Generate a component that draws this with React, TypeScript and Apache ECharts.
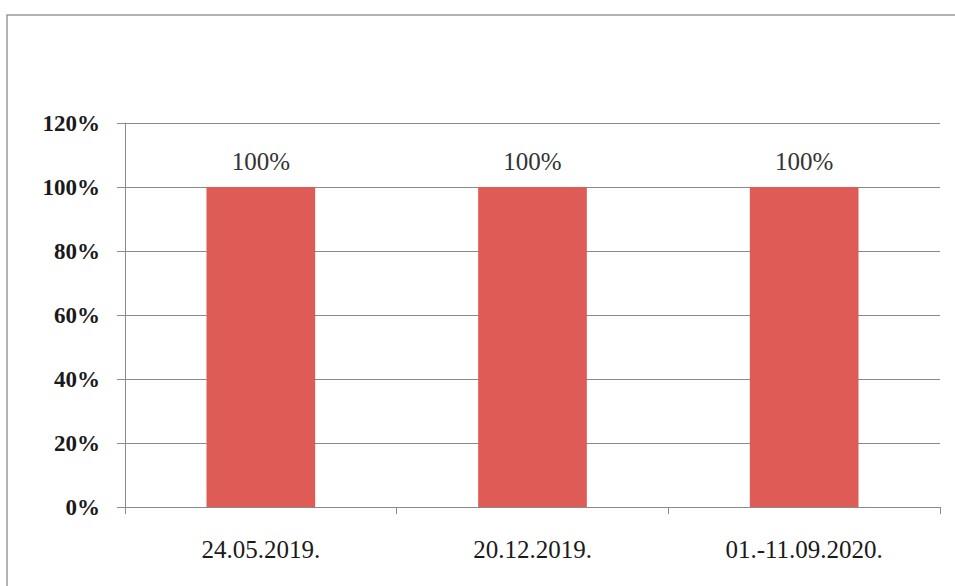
import React, { useEffect, useRef } from "react";
import * as echarts from "echarts";

const categories = ["24.05.2019.", "20.12.2019.", "01.-11.09.2020."];
const values = [100, 100, 100];
const yTicks = { min: 0, max: 120, interval: 20 };

export default function App() {
  const ref = useRef<HTMLDivElement>(null);
  useEffect(() => {
    document.body.style.margin = "0";
    const chart = echarts.init(ref.current!, null, { renderer: "svg" });
    const serif = "'Liberation Serif', 'Times New Roman', serif";
    chart.setOption({
      animation: false,
      backgroundColor: "#ffffff",
      graphic: [
        {
          type: "rect",
          shape: { x: 7, y: 15, width: 970, height: 600 },
          style: { fill: "none", stroke: "#9a9a9a", lineWidth: 1.5 },
          silent: true,
        },
      ],
      grid: { left: 125, right: 15, top: 123, bottom: 79, containLabel: false },
      xAxis: {
        type: "category",
        data: categories,
        axisLine: { show: true, lineStyle: { color: "#8a8a8a", width: 1 } },
        axisTick: { show: true, length: 7, lineStyle: { color: "#8a8a8a" } },
        axisLabel: {
          fontFamily: serif,
          fontSize: 25,
          color: "#1a1a1a",
          margin: 30,
        },
        splitLine: { show: false },
      },
      yAxis: {
        type: "value",
        min: yTicks.min,
        max: yTicks.max,
        interval: yTicks.interval,
        axisLine: { show: true, lineStyle: { color: "#8a8a8a", width: 1 } },
        axisTick: { show: true, length: 8, lineStyle: { color: "#8a8a8a" } },
        axisLabel: {
          fontFamily: serif,
          fontSize: 23,
          fontWeight: "bold",
          color: "#1a1a1a",
          margin: 25,
          formatter: (v: number) => `${v}%`,
        },
        splitLine: { show: true, lineStyle: { color: "#8a8a8a", width: 1 } },
      },
      series: [
        {
          type: "bar",
          data: values,
          barWidth: "40%",
          itemStyle: { color: "#df5b55" },
          label: {
            show: true,
            position: "top",
            distance: 13,
            fontFamily: serif,
            fontSize: 25,
            color: "#333333",
            formatter: (p: any) => `${p.value}%`,
          },
        },
      ],
    });
    return () => chart.dispose();
  }, []);
  return (
    <div
      ref={ref}
      style={{ position: "fixed", left: 0, top: 0, width: 955, height: 586 }}
    />
  );
}
